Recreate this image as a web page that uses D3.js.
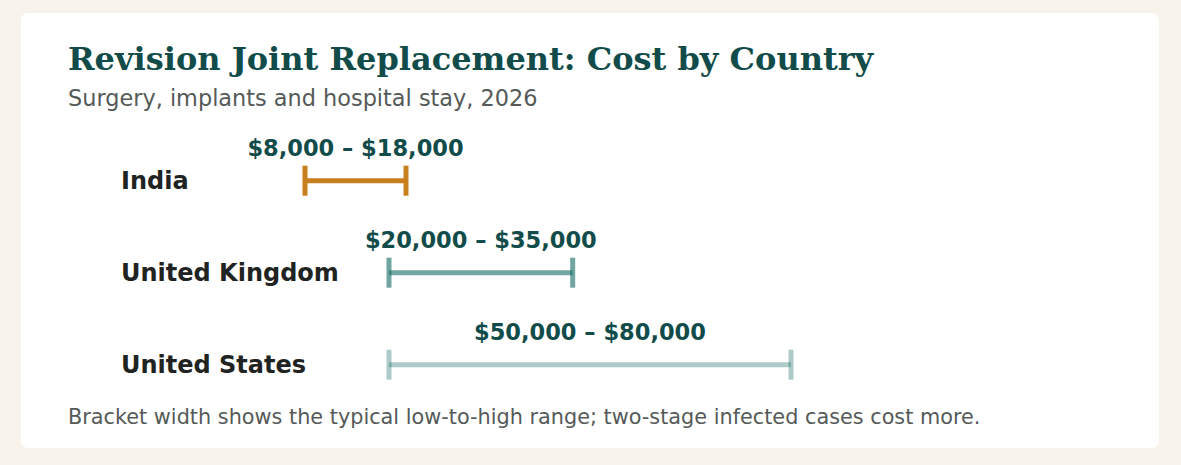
<!DOCTYPE html>
<html>
<head>
<meta charset="utf-8">
<script src="https://cdn.jsdelivr.net/npm/d3@7"></script>
<style>
  html, body { margin: 0; padding: 0; background: #f7f3ea; }
  svg { display: block; }
</style>
</head>
<body>
<svg id="chart" width="1181" height="465"></svg>
<script>
// ---- data ----
const countries = ["India", "United Kingdom", "United States"];
const lowValues = [8000, 20000, 50000];
const highValues = [18000, 35000, 80000];
const title = "Revision Joint Replacement: Cost by Country";
const subtitle = "Surgery, implants and hospital stay, 2026";
const footnote = "Bracket width shows the typical low-to-high range; two-stage infected cases cost more.";

// ---- layout ----
const W = 1181, H = 465;
const svg = d3.select("#chart");
const fmt = d3.format("$,");

svg.append("rect").attr("width", W).attr("height", H).attr("fill", "#f7f3ea");
svg.append("rect").attr("x", 21).attr("y", 13).attr("width", 1138).attr("height", 435)
  .attr("rx", 7).attr("fill", "#ffffff");

svg.append("text").attr("x", 68).attr("y", 70)
  .attr("font-family", "DejaVu Serif").attr("font-weight", "bold")
  .attr("font-size", 32).attr("fill", "#124c4a").text(title);
svg.append("text").attr("x", 68).attr("y", 106)
  .attr("font-family", "DejaVu Sans").attr("font-size", 22.4)
  .attr("fill", "#555a58").text(subtitle);
svg.append("text").attr("x", 68).attr("y", 424)
  .attr("font-family", "DejaVu Sans").attr("font-size", 20.8)
  .attr("fill", "#555a58").text(footnote);

const rows = countries.map((c, i) => ({ country: c, low: lowValues[i], high: highValues[i] }));

const y = d3.scalePoint().domain(countries).range([180.7, 364.7]);
// bracket ends as drawn in the reference: low ends clamp at the label column edge
const xLow = d3.scaleLinear().domain([8000, 20000]).range([305, 389]).clamp(true);
const xHigh = d3.scalePow().exponent(0.07).domain([18000, 80000]).range([406, 791]);

const colors = ["#c8801f", "#1a6e68", "#1a6e68"];
const opac = [1, 0.62, 0.36];

const g = svg.selectAll("g.row").data(rows).join("g").attr("class", "row")
  .attr("transform", d => `translate(0,${y(d.country)})`);

g.append("line")
  .attr("x1", d => xLow(d.low)).attr("x2", d => xHigh(d.high))
  .attr("y1", 0).attr("y2", 0)
  .attr("stroke", (d, i) => colors[i]).attr("stroke-opacity", (d, i) => opac[i])
  .attr("stroke-width", 5);
g.append("line")
  .attr("x1", d => xLow(d.low)).attr("x2", d => xLow(d.low))
  .attr("y1", -15).attr("y2", 15)
  .attr("stroke", (d, i) => colors[i]).attr("stroke-opacity", (d, i) => opac[i])
  .attr("stroke-width", 5);
g.append("line")
  .attr("x1", d => xHigh(d.high)).attr("x2", d => xHigh(d.high))
  .attr("y1", -15).attr("y2", 15)
  .attr("stroke", (d, i) => colors[i]).attr("stroke-opacity", (d, i) => opac[i])
  .attr("stroke-width", 5);

svg.selectAll("text.country").data(rows).join("text").attr("class", "country")
  .attr("x", 121).attr("y", d => y(d.country)).attr("dy", "0.35em")
  .attr("font-family", "DejaVu Sans").attr("font-weight", "bold")
  .attr("font-size", 24).attr("fill", "#1f2422").text(d => d.country);

svg.selectAll("text.range").data(rows).join("text").attr("class", "range")
  .attr("x", d => (xLow(d.low) + xHigh(d.high)) / 2)
  .attr("y", d => y(d.country) - 25)
  .attr("text-anchor", "middle")
  .attr("font-family", "DejaVu Sans").attr("font-weight", "bold")
  .attr("font-size", 22.5).attr("fill", "#124c4a")
  .text(d => `${fmt(d.low)} – ${fmt(d.high)}`);
</script>
</body>
</html>
